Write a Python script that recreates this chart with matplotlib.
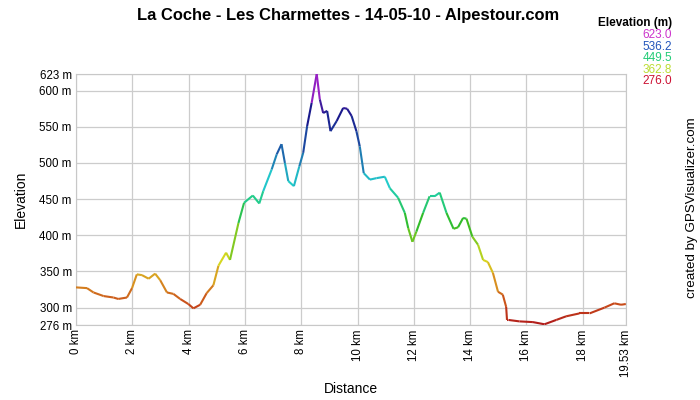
import numpy as np
import matplotlib.pyplot as plt
from matplotlib.collections import LineCollection
from matplotlib.colors import LinearSegmentedColormap, Normalize

plt.rcParams['font.family'] = ['Liberation Sans', 'DejaVu Sans']

# distance (km) and elevation (m)
dist = [0.0, 0.39, 0.62, 0.98, 1.33, 1.5, 1.81, 1.99, 2.16, 2.34, 2.58, 2.81, 2.99,
        3.23, 3.46, 3.70, 3.99, 4.17, 4.41, 4.64, 4.88, 5.06, 5.33, 5.47, 5.77, 5.97,
        6.28, 6.51, 6.65, 6.95, 7.13, 7.30, 7.42, 7.54, 7.74, 7.93, 8.07, 8.21, 8.37,
        8.55, 8.66, 8.78, 8.92, 9.04, 9.26, 9.49, 9.63, 9.79, 9.96, 10.08, 10.22,
        10.44, 10.67, 10.97, 11.15, 11.44, 11.68, 11.80, 11.95, 12.09, 12.33, 12.56,
        12.74, 12.92, 13.16, 13.41, 13.57, 13.75, 13.87, 14.08, 14.28, 14.46, 14.63,
        14.81, 14.99, 15.16, 15.28, 15.31, 15.36, 15.75, 16.23, 16.64, 17.06, 17.41,
        17.88, 18.24, 18.77, 19.12, 19.36, 19.53]
elev = [328, 327, 321, 316, 314, 312, 314, 327, 346, 345, 340, 347, 338,
        321, 319, 312, 305, 299, 304, 320, 331, 358, 376, 366, 417, 445,
        455, 444, 461, 491, 512, 526, 500, 475, 468, 495, 514, 551, 583,
        623, 588, 569, 572, 544, 558, 576, 575, 565, 544, 523, 486,
        477, 479, 481, 465, 452, 431, 410, 391, 405, 431, 454,
        454, 459, 431, 409, 411, 424, 423, 398, 387, 366, 363,
        348, 322, 318, 301, 283, 283, 281, 280, 277, 283, 288,
        292, 292, 300, 306, 304, 305]

y_ticks = [276, 300, 350, 400, 450, 500, 550, 600, 623]
x_ticks = [0, 2, 4, 6, 8, 10, 12, 14, 16, 18, 19.53]
x_labels = ['0 km', '2 km', '4 km', '6 km', '8 km', '10 km', '12 km', '14 km',
            '16 km', '18 km', '19.53 km']
legend_vals = ['623.0', '536.2', '449.5', '362.8', '276.0']
legend_cols = ['#cc33cc', '#2255bb', '#22cc77', '#bbdd33', '#cc1133']

cmap = LinearSegmentedColormap.from_list('elev', [
    (0.0, '#b01a1a'), (0.08, '#c84a1a'), (0.17, '#d89020'), (0.26, '#d8d820'),
    (0.40, '#33bb22'), (0.50, '#22cc88'), (0.57, '#22cccc'), (0.70, '#1d5aa8'),
    (0.84, '#1a1a8c'), (1.0, '#cc22dd')])
norm = Normalize(276, 623)

fig = plt.figure(figsize=(7, 4), dpi=100)
ax = fig.add_axes([0.1086, 0.1875, 0.7854, 0.6275])

x = np.array(dist)
y = np.array(elev)
pts = np.column_stack([x, y]).reshape(-1, 1, 2)
segs = np.concatenate([pts[:-1], pts[1:]], axis=1)
lc = LineCollection(segs, cmap=cmap, norm=norm, linewidth=1.5, zorder=3)
lc.set_array((y[:-1] + y[1:]) / 2)
ax.add_collection(lc)

ax.set_xlim(0, 19.53)
ax.set_ylim(276, 623)
ax.set_yticks(y_ticks)
ax.set_yticklabels([f'{v} m' for v in y_ticks], fontsize=8.3)
ax.set_xticks(x_ticks)
ax.set_xticklabels(x_labels, rotation=90, fontsize=8.3, va='top')
ax.tick_params(length=0, pad=3, colors='#000000')
ax.grid(True, color='#cccccc', linewidth=0.9)
for s in ax.spines.values():
    s.set_color('#c8c8c8')

ax.set_ylabel('Elevation', fontsize=10, labelpad=8)
ax.set_xlabel('Distance', fontsize=10, labelpad=4)

fig.text(0.497, 0.962, 'La Coche - Les Charmettes - 14-05-10 - Alpestour.com',
         ha='center', va='center', fontsize=11.9, fontweight='bold')
fig.text(0.96, 0.943, 'Elevation (m)', ha='right', va='center', fontsize=8.5,
         fontweight='bold')
for i, (v, c) in enumerate(zip(legend_vals, legend_cols)):
    fig.text(0.96, 0.9125 - i * 0.029, v, ha='right', va='center', fontsize=8.5,
             color=c)
fig.text(0.988, 0.481, 'created by GPSVisualizer.com', rotation=90, ha='center',
         va='center', fontsize=9.6)

fig.savefig('out.png', dpi=100)
